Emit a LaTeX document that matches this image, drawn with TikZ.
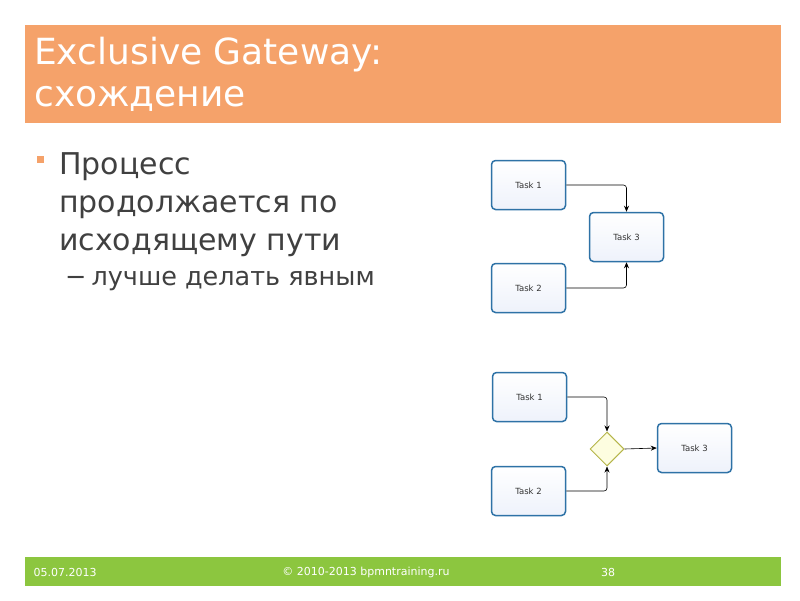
\documentclass[tikz,border=0pt]{standalone}
\usepackage{fontspec}
\setmainfont{DejaVu Sans}
\usetikzlibrary{positioning, shapes.geometric, arrows.meta}
\definecolor{titleorange}{HTML}{F5A26A}
\definecolor{footgreen}{HTML}{8CC63F}
\definecolor{taskblue}{HTML}{2E72A6}
\definecolor{taskfill}{HTML}{EEF2FB}
\definecolor{textgray}{HTML}{404040}
\definecolor{gwline}{HTML}{B5B54A}
\definecolor{gwfill}{HTML}{FDFDE0}
\begin{document}
\begin{tikzpicture}[x=1pt,y=-1pt,>={Stealth[length=6pt,width=5pt]},
  task/.style={draw=taskblue,line width=1.5pt,rounded corners=4pt,top color=white,bottom color=taskfill,
    minimum width=74pt,minimum height=49pt,font=\fontsize{8.5}{10}\selectfont,text=black!80},
  gateway/.style={diamond,draw=gwline,line width=1pt,fill=gwfill,minimum size=34pt,inner sep=0pt},
  flow/.style={->,line width=0.6pt,rounded corners=3pt}]
\useasboundingbox (0,0) rectangle (800,600);
% title and footer
\fill[titleorange] (25,25) rectangle (781,123);
\node[anchor=north west,align=left,text=white,font=\fontsize{36}{42}\selectfont,inner sep=0pt] (title) at (34,37)
  {Exclusive Gateway:\\схождение};
\fill[footgreen] (25,557) rectangle (781,586);
\node[anchor=west,text=white,font=\fontsize{11}{13}\selectfont] (date) at (30,572) {05.07.2013};
\node[text=white,font=\fontsize{11}{13}\selectfont] (copy) at (366,572) {© 2010-2013 bpmntraining.ru};
\node[text=white,font=\fontsize{11}{13}\selectfont] (page) at (608,572) {38};
% bullets
\fill[titleorange] (37,156) rectangle (44,163);
\node[anchor=north west,align=left,text=textgray,font=\fontsize{30}{38}\selectfont,inner sep=0pt] (point) at (59,152)
  {Процесс\\продолжается по\\исходящему пути};
\node[anchor=west,text=textgray,font=\fontsize{25.5}{28}\selectfont,inner sep=0pt] (sub) at (65,281)
  {−\hspace{5pt}лучше делать явным};
% without gateway
\node[task] (a1) at (528.5,185) {Task 1};
\node[task] (a3) at (626.5,237) {Task 3};
\node[task] (a2) at (528.5,288) {Task 2};
\draw[flow] (a1.east) -| (a3.north);
\draw[flow] (a2.east) -| (a3.south);
% with gateway
\node[task] (b1) at (529.5,397) {Task 1};
\node[task] (b2) at (528.5,491) {Task 2};
\node[gateway] (gw) at (607,449) {};
\node[task] (b3) at (694.5,448) {Task 3};
\draw[flow] (b1.east) -| (gw.north);
\draw[flow] (b2.east) -| (gw.south);
\draw[flow] (gw.east) -- (b3.west);
\end{tikzpicture}
\end{document}
